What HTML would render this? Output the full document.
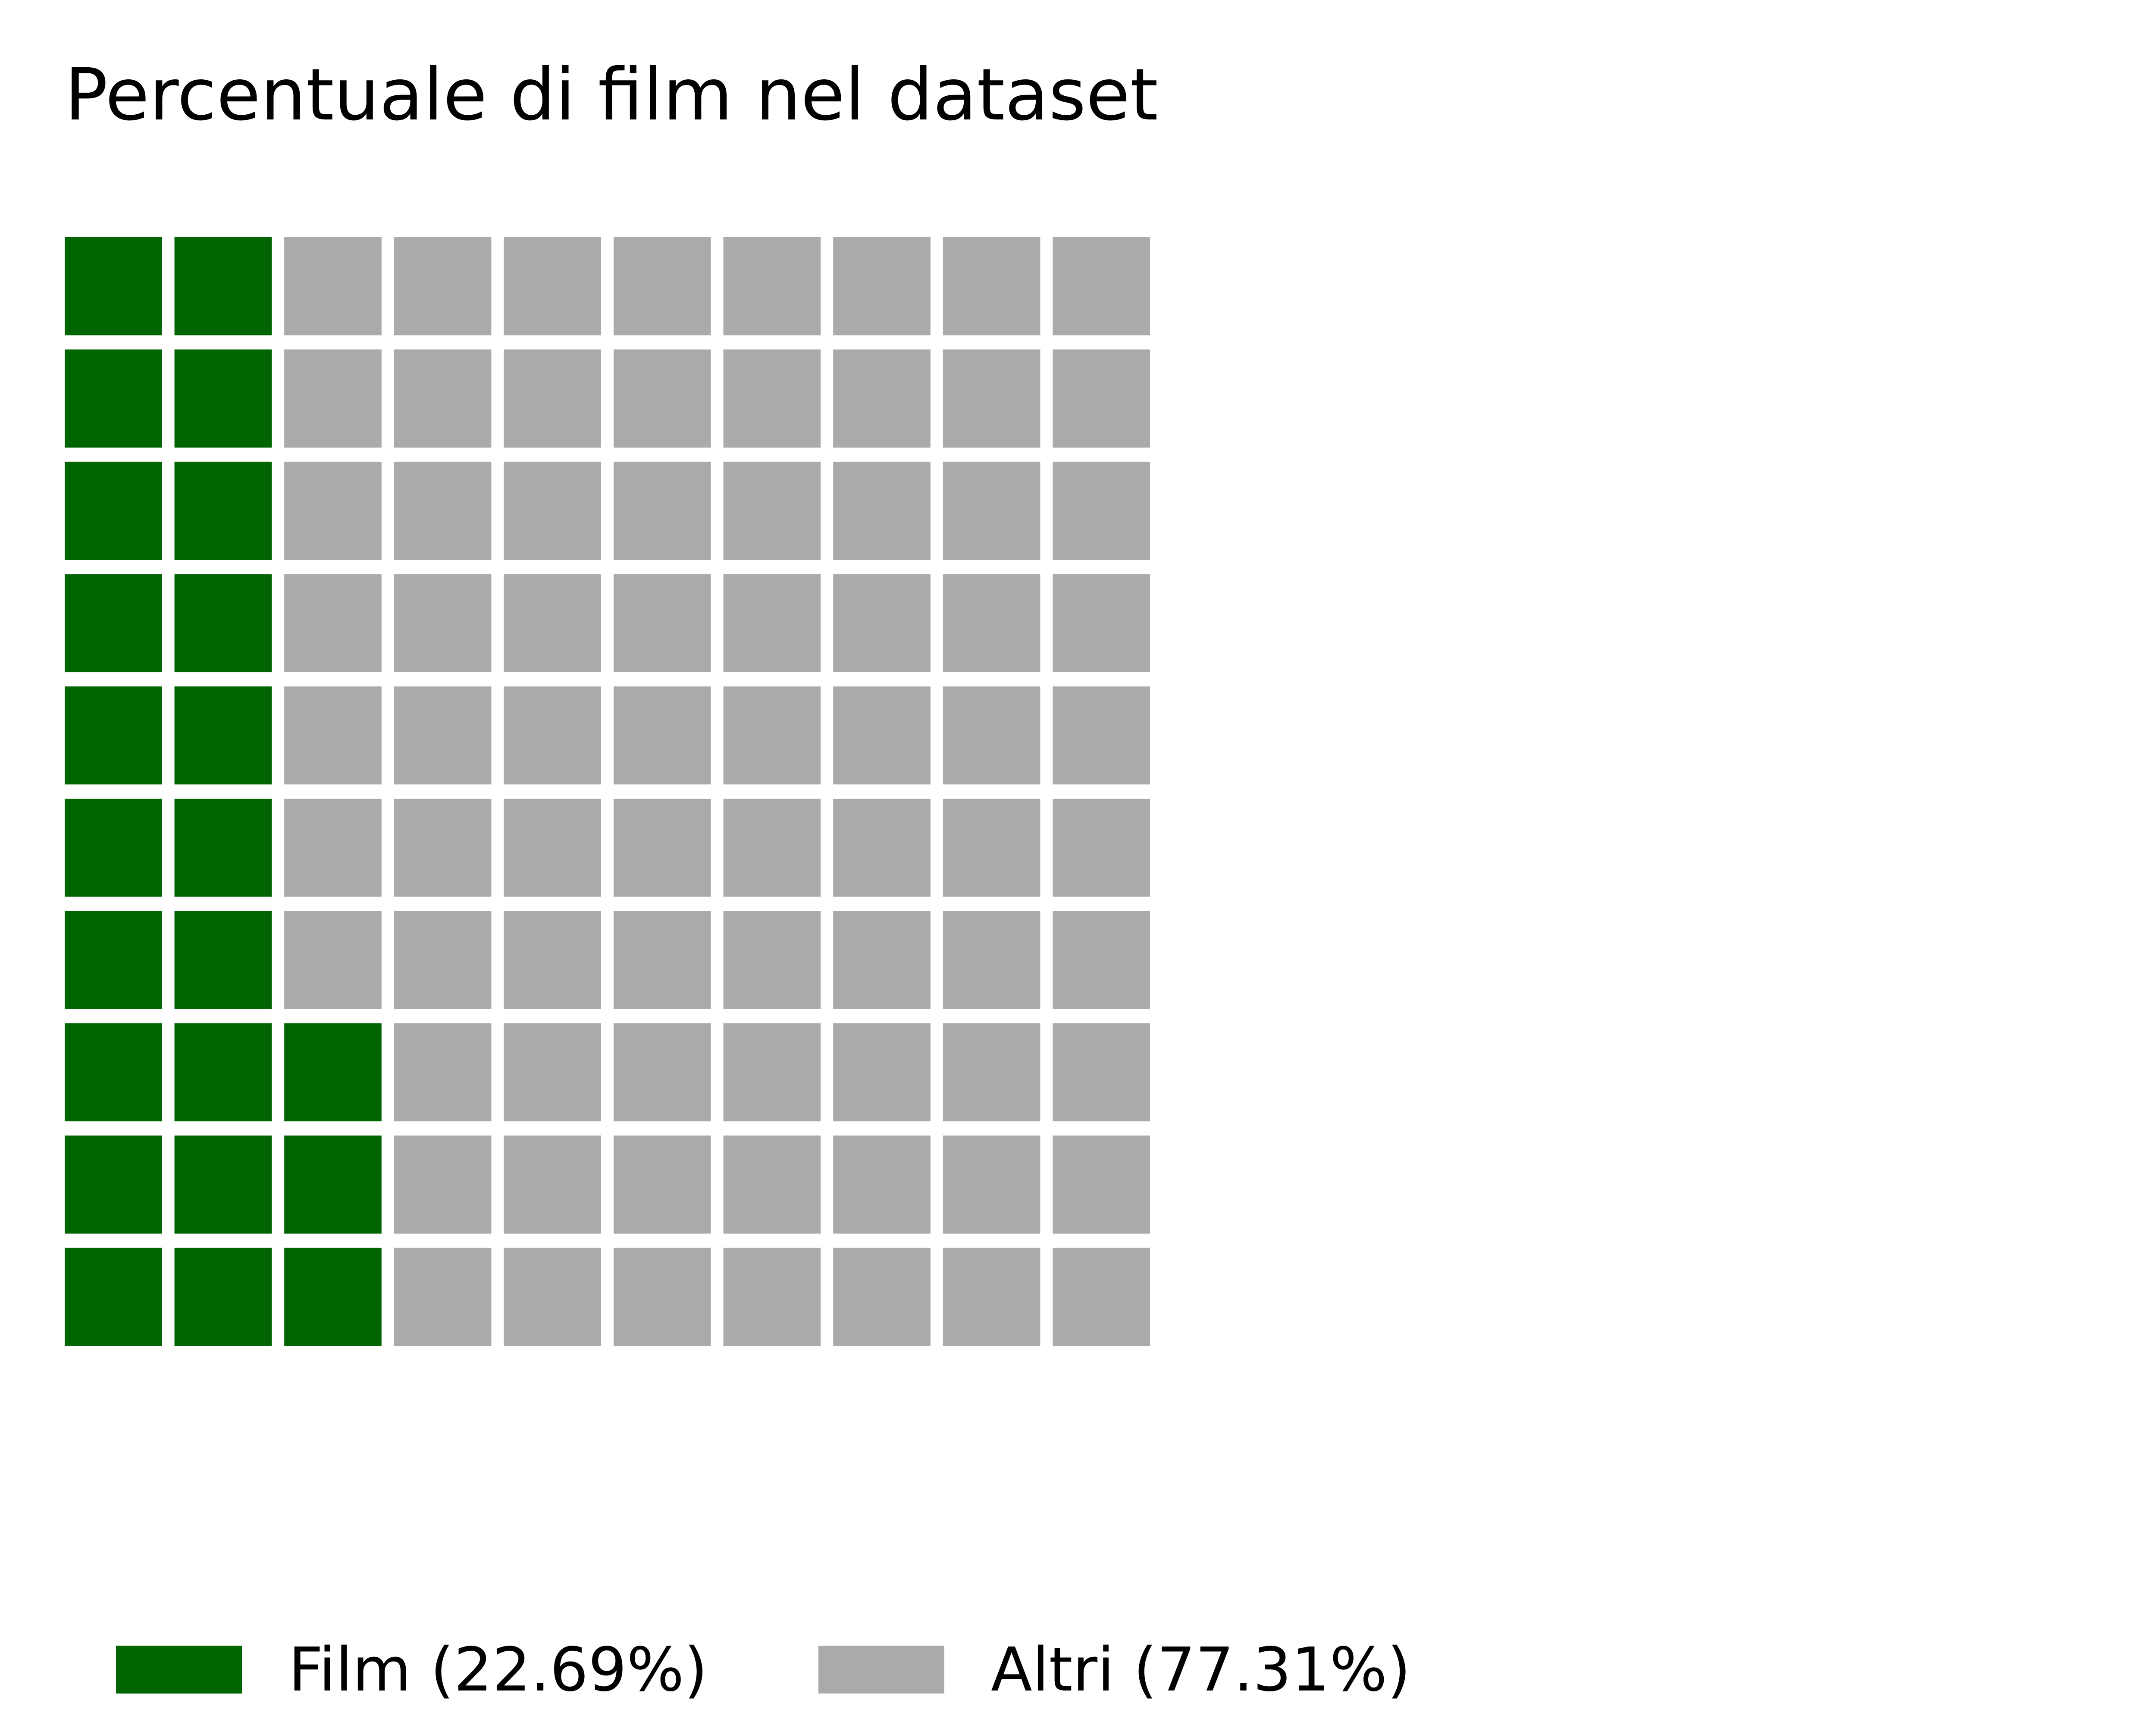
<!DOCTYPE html>
<html>
<head>
<meta charset="utf-8">
<style>
  html, body { margin: 0; padding: 0; background: #ffffff; }
  body { width: 6000px; height: 4000px; overflow: hidden; }
  svg { display: block; }
  text { font-family: "DejaVu Sans", "Liberation Sans", sans-serif; fill: #000; }
</style>
</head>
<body>
<svg id="chart" width="6000" height="4000" viewBox="0 0 6000 4000">
  <text x="150" y="277" font-size="166">Percentuale di film nel dataset</text>
  <g id="grid"></g>
  <g id="legend"></g>
</svg>
<script>
const categories = ["Film", "Altri"];
const percentages = [22.69, 77.31];
const colors = ["#006400", "#aaaaaa"];
const gridRows = 10;
const gridCols = 10;

const NS = "http://www.w3.org/2000/svg";
const gridLeft = 150, gridTop = 550, colPitch = 254.6, rowPitch = 260.4, cellW = 225.6, cellH = 227.4;
function xPos(col) { return gridLeft + col * colPitch; }
function yPos(row) { return gridTop + row * rowPitch; }

const grid = document.getElementById("grid");
// cells filled column by column, from bottom to top
const counts = percentages.map(p => Math.round(p * gridRows * gridCols / 100));
let idx = 0;
for (let c = 0; c < categories.length; c++) {
  for (let k = 0; k < counts[c] && idx < gridRows * gridCols; k++, idx++) {
    const col = Math.floor(idx / gridRows);
    const row = gridRows - 1 - (idx % gridRows);
    const r = document.createElementNS(NS, "rect");
    r.setAttribute("x", xPos(col));
    r.setAttribute("y", yPos(row));
    r.setAttribute("width", cellW);
    r.setAttribute("height", cellH);
    r.setAttribute("fill", colors[c]);
    
    
    grid.appendChild(r);
  }
}

const legend = document.getElementById("legend");
const legendX = [269, 1898];
for (let c = 0; c < categories.length; c++) {
  const g = document.createElementNS(NS, "g");
  
  
  const r = document.createElementNS(NS, "rect");
  r.setAttribute("x", legendX[c]);
  r.setAttribute("y", 3816);
  r.setAttribute("width", 292);
  r.setAttribute("height", 111);
  r.setAttribute("fill", colors[c]);
  
  
  g.appendChild(r);
  const t = document.createElementNS(NS, "text");
  t.setAttribute("x", legendX[c] + 400);
  t.setAttribute("y", 3920);
  t.setAttribute("font-size", "140");
  t.textContent = categories[c] + " (" + percentages[c].toFixed(2) + "%)";
  
  
  g.appendChild(t);
  legend.appendChild(g);
}
</script>
</body>
</html>
